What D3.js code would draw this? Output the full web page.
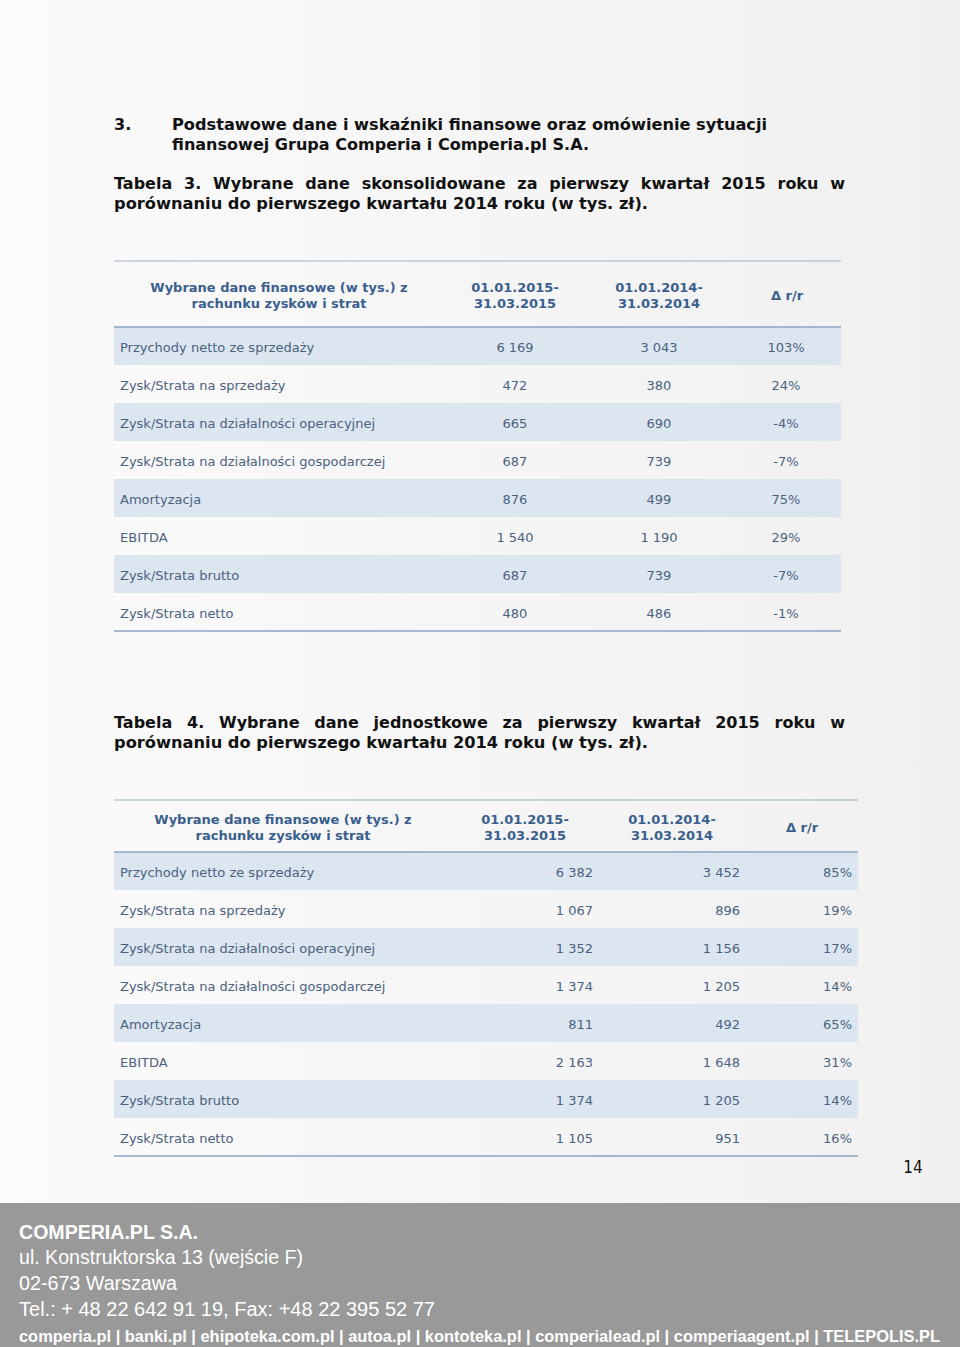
<!DOCTYPE html>
<html><head><meta charset="utf-8">
<script src="https://cdn.jsdelivr.net/npm/d3@7"></script>
<style>html,body{margin:0;padding:0;} svg{display:block;}</style>
</head><body>
<svg id="c" width="960" height="1347"></svg>
<script>
// ---- data ----
const rowLabels = ["Przychody netto ze sprzedaży","Zysk/Strata na sprzedaży","Zysk/Strata na działalności operacyjnej","Zysk/Strata na działalności gospodarczej","Amortyzacja","EBITDA","Zysk/Strata brutto","Zysk/Strata netto"];
const headerCols = [["Wybrane dane finansowe (w tys.) z","rachunku zysków i strat"],["01.01.2015-","31.03.2015"],["01.01.2014-","31.03.2014"],["Δ r/r"]];
const t3Q2015 = [6169, 472, 665, 687, 876, 1540, 687, 480];
const t3Q2014 = [3043, 380, 690, 739, 499, 1190, 739, 486];
const t3Delta = [103, 24, -4, -7, 75, 29, -7, -1];
const t4Q2015 = [6382, 1067, 1352, 1374, 811, 2163, 1374, 1105];
const t4Q2014 = [3452, 896, 1156, 1205, 492, 1648, 1205, 951];
const t4Delta = [85, 19, 17, 14, 65, 31, 14, 16];
const sectionTitle = ["3.", "Podstawowe dane i wskaźniki finansowe oraz omówienie sytuacji", "finansowej Grupa Comperia i Comperia.pl S.A."];
const caption3 = ["Tabela 3. Wybrane dane skonsolidowane za pierwszy kwartał 2015 roku w", "porównaniu do pierwszego kwartału 2014 roku (w tys. zł)."];
const caption4 = ["Tabela 4. Wybrane dane jednostkowe za pierwszy kwartał 2015 roku w", "porównaniu do pierwszego kwartału 2014 roku (w tys. zł)."];
const footerLines = ["COMPERIA.PL S.A.", "ul. Konstruktorska 13 (wejście F)", "02-673 Warszawa", "Tel.: + 48 22 642 91 19,  Fax: +48 22 395 52 77", "comperia.pl | banki.pl | ehipoteka.com.pl | autoa.pl | kontoteka.pl | comperialead.pl | comperiaagent.pl | TELEPOLIS.PL"];
const pageNumber = "14";

// ---- drawing ----
const svg = d3.select("#c");
const defs = svg.append("defs");
const g = defs.append("linearGradient").attr("id","bg").attr("x1","0").attr("x2","1").attr("y1","0").attr("y2","0");
g.append("stop").attr("offset","0").attr("stop-color","#fbfbfb");
g.append("stop").attr("offset","1").attr("stop-color","#f0f0f0");
svg.append("rect").attr("width",960).attr("height",1347).attr("fill","url(#bg)");

const fmtNum = v => d3.format(",")(v).replace(/,/g, " ");
const fmtPct = v => v + "%";

const TITLE_FONT = "'DejaVu Sans', Verdana, sans-serif";
const DY = "0.4em";

function fitText(sel, w) {
  const len = sel.node().getComputedTextLength();
  if (len > 0) sel.attr("textLength", w).attr("lengthAdjust", "spacingAndGlyphs");
}

function justify(str, x0, x1, y, size) {
  const words = str.split(" ");
  const grp = svg.append("g");
  const nodes = words.map(w => grp.append("text").text(w).attr("y", y).attr("dy",DY)
      .attr("font-family", TITLE_FONT).attr("font-weight","bold").attr("font-size", size).attr("fill","#111"));
  const widths = nodes.map(n => n.node().getComputedTextLength());
  const total = d3.sum(widths);
  const gap = (x1 - x0 - total) / (words.length - 1);
  let x = x0;
  nodes.forEach((n, i) => { n.attr("x", x); x += widths[i] + gap; });
}

function plain(str, x, y, size, width) {
  const t = svg.append("text").text(str).attr("x", x).attr("y", y).attr("dy",DY)
    .attr("font-family", TITLE_FONT).attr("font-weight","bold").attr("font-size", size).attr("fill","#111");
  if (width) fitText(t, width);
  return t;
}

// Section title
plain(sectionTitle[0], 114, 124, 16);
plain(sectionTitle[1], 172, 124, 16, 595);
plain(sectionTitle[2], 172, 144, 16, 417);
// Caption 3
justify(caption3[0], 114, 845, 183, 16);
plain(caption3[1], 114, 203, 16, 534);
// Caption 4
justify(caption4[0], 114, 845, 722, 16);
plain(caption4[1], 114, 742, 16, 534);

function drawTable(cfg) {
  const T = svg.append("g");
  const y = d3.scaleBand().domain(d3.range(rowLabels.length)).range([cfg.bodyTop, cfg.bodyTop + cfg.rowH * rowLabels.length]);
  // stripes
  T.selectAll("rect.stripe").data(d3.range(rowLabels.length).filter(i => i % 2 === 0)).join("rect")
    .attr("x", cfg.x0).attr("width", cfg.x1 - cfg.x0)
    .attr("y", i => y(i)).attr("height", y.bandwidth()).attr("fill", "#dce6f1");
  // rules
  [[cfg.top, "#9fb3c9", 1.2], [cfg.bodyTop, "#8ca4c0", 1.5], [y.range()[1], "#8ca4c0", 1.5]].forEach(([yy, c, w]) => {
    T.append("line").attr("x1", cfg.x0).attr("x2", cfg.x1).attr("y1", yy).attr("y2", yy).attr("stroke", c).attr("stroke-width", w);
  });
  // header
  const hc = (cfg.top + cfg.bodyTop) / 2 + 1;
  headerCols.forEach((lines, ci) => {
    lines.forEach((ln, li) => {
      const yy = lines.length === 1 ? hc : hc - 8 + li * 16;
      T.append("text").text(ln).attr("x", cfg.headX[ci]).attr("y", yy).attr("dy",DY)
        .attr("text-anchor","middle").attr("font-family", TITLE_FONT).attr("font-weight","bold")
        .attr("font-size", 13).attr("fill", "#3a5f8f");
    });
  });
  // body
  const cols = [cfg.c1, cfg.c2, cfg.c3];
  const fmts = [fmtNum, fmtNum, fmtPct];
  rowLabels.forEach((lab, i) => {
    const cy = y(i) + y.bandwidth() / 2 + 1;
    T.append("text").text(lab).attr("x", cfg.x0 + 6).attr("y", cy).attr("dy",DY)
      .attr("font-family", TITLE_FONT).attr("font-size", 13).attr("fill", "#4a6280");
    cols.forEach((arr, ci) => {
      T.append("text").text(fmts[ci](arr[i])).attr("x", cfg.valX[ci]).attr("y", cy).attr("dy",DY)
        .attr("text-anchor", cfg.anchor).attr("font-family", TITLE_FONT).attr("font-size", 13).attr("fill", "#4a6280");
    });
  });
}

drawTable({x0:114, x1:841, top:261, bodyTop:327, rowH:38, headX:[279,515,659,787],
  valX:[515,659,786], anchor:"middle", c1:t3Q2015, c2:t3Q2014, c3:t3Delta});
drawTable({x0:114, x1:858, top:800, bodyTop:852, rowH:38, headX:[283,525,672,802],
  valX:[593,740,852], anchor:"end", c1:t4Q2015, c2:t4Q2014, c3:t4Delta});

// page number
svg.append("text").text(pageNumber).attr("x", 913).attr("y", 1166).attr("dy",DY).attr("text-anchor","middle")
  .attr("font-family","'Liberation Sans Narrow','DejaVu Sans Condensed',sans-serif").attr("font-size", 17).attr("fill","#111");

// footer
svg.append("rect").attr("x",0).attr("y",1203).attr("width",960).attr("height",144).attr("fill","#999999");
const FF = "'Liberation Sans', Arial, sans-serif";
const fspec = [
  {y:1232, size:20, bold:true, w:179},
  {y:1257, size:20, bold:false, w:284},
  {y:1283, size:20, bold:false, w:158},
  {y:1309, size:20, bold:false, w:416},
  {y:1336, size:16, bold:true, w:921}
];
footerLines.forEach((s, i) => {
  const t = svg.append("text").text(s).attr("x", 19).attr("y", fspec[i].y).attr("dy","0.35em")
    .attr("font-family", FF).attr("font-size", fspec[i].size).attr("font-weight", fspec[i].bold ? "bold" : "normal")
    .attr("fill", "#ffffff");
  fitText(t, fspec[i].w);
});
</script>
</body></html>
